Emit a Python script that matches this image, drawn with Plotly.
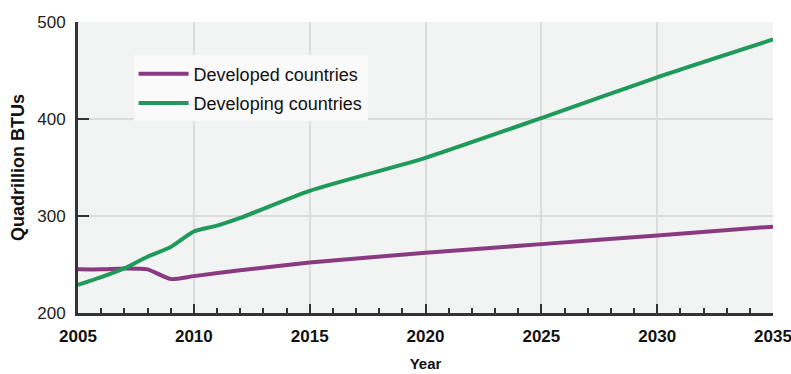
import plotly.graph_objects as go

years_dev = [2005, 2006, 2007, 2008, 2009, 2010, 2012, 2015, 2020, 2025, 2030, 2035]
developed = [245, 245, 246, 245, 235, 238, 244, 252, 262, 271, 280, 289]

years_dvg = [2005, 2006, 2007, 2008, 2009, 2010, 2011, 2012, 2015, 2020, 2025, 2030, 2035]
developing = [229, 237, 246, 258, 268, 284, 290, 298, 326, 360, 401, 443, 482]

x_ticks = [2005, 2010, 2015, 2020, 2025, 2030, 2035]
y_ticks = [200, 300, 400, 500]

PURPLE = "#8a3a80"
GREEN = "#1f9a5b"

fig = go.Figure()
fig.add_trace(go.Scatter(
    x=years_dev, y=developed, mode="lines", name="Developed countries",
    line=dict(color=PURPLE, width=4, shape="spline", smoothing=0.6),
    legendgroup="a"))
fig.add_trace(go.Scatter(
    x=years_dvg, y=developing, mode="lines", name="Developing countries",
    line=dict(color=GREEN, width=4, shape="spline", smoothing=0.6),
    legendgroup="b"))

fig.update_layout(
    width=791, height=374,
    margin=dict(l=78, r=18, t=22, b=61),
    paper_bgcolor="white",
    plot_bgcolor="#f2f3f3",
    font=dict(family="Liberation Sans, Arial, sans-serif", color="#111"),
    legend=dict(
        x=0.080, y=0.885, xanchor="left", yanchor="top",
        bgcolor="#fafafa", borderwidth=0,
        font=dict(family="Liberation Sans, Arial, sans-serif", size=18, color="#111"),
        traceorder="grouped", tracegroupgap=3,
        itemwidth=50,
    ),
    xaxis=dict(
        range=[2005, 2035], tickvals=x_ticks,
        ticktext=[str(v) for v in x_ticks],
        showgrid=True, gridcolor="#dcdcdc", gridwidth=2,
        showline=True, linecolor="#333", linewidth=3,
        ticks="inside", ticklen=9, tickwidth=2, tickcolor="#333",
        minor=dict(ticks="inside", dtick=1, ticklen=5, tickwidth=2, tickcolor="#333", showgrid=False),
        tickfont=dict(family="Liberation Sans, Arial, sans-serif", size=17, color="#111", weight="bold"),
        ticklabelstandoff=6,
        ticklabeloverflow="allow",
        automargin=False,
        title=dict(text="<b>Year</b>", font=dict(size=15, color="#111"), standoff=14),
        zeroline=False,
    ),
    yaxis=dict(
        range=[200, 500], tickvals=y_ticks,
        showgrid=True, gridcolor="#dcdcdc", gridwidth=2,
        showline=True, linecolor="#333", linewidth=3,
        ticks="inside", ticklen=11, tickwidth=2, tickcolor="#333",
        tickfont=dict(family="Liberation Sans, Arial, sans-serif", size=17, color="#222"),
        ticklabelstandoff=6,
        ticklabeloverflow="allow",
        automargin=False,
        title=dict(text="<b>Quadrillion BTUs</b>", font=dict(size=18, color="#111"), standoff=8),
        zeroline=False,
    ),
)

fig.write_html(
    "out.html",
    config={"displayModeBar": False},
    post_script="document.body.style.margin='0';document.documentElement.style.overflow='hidden';",
)
